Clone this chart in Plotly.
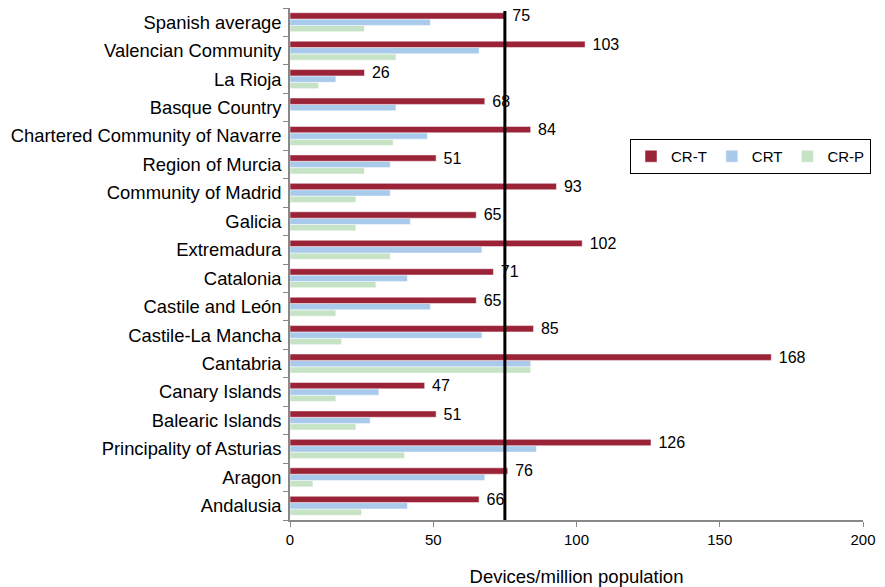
import plotly.graph_objects as go

regions = ["Andalusia", "Aragon", "Principality of Asturias", "Balearic Islands", "Canary Islands",
           "Cantabria", "Castile-La Mancha", "Castile and León", "Catalonia", "Extremadura",
           "Galicia", "Community of Madrid", "Region of Murcia", "Chartered Community of Navarre",
           "Basque Country", "La Rioja", "Valencian Community", "Spanish average"]
cr_t = [66, 76, 126, 51, 47, 168, 85, 65, 71, 102, 65, 93, 51, 84, 68, 26, 103, 75]
crt = [41, 68, 86, 28, 31, 84, 67, 49, 41, 67, 42, 35, 35, 48, 37, 16, 66, 49]
cr_p = [25, 8, 40, 23, 16, 84, 18, 16, 30, 35, 23, 23, 26, 36, 0, 10, 37, 26]
spanish_avg = 75
x_ticks = [0, 50, 100, 150, 200]

font_family = "Liberation Sans, Arial, sans-serif"

fig = go.Figure()
fig.add_trace(go.Bar(y=regions, x=cr_p, orientation="h", name="CR-P",
                     marker=dict(color="#c6e3c6", line=dict(color="white", width=0.5))))
fig.add_trace(go.Bar(y=regions, x=crt, orientation="h", name="CRT",
                     marker=dict(color="#a9caeb", line=dict(color="white", width=0.5))))
fig.add_trace(go.Bar(y=regions, x=cr_t, orientation="h", name="CR-T",
                     marker=dict(color="#9b2337", line=dict(color="white", width=0.5)),
                     text=cr_t, texttemplate=" %{x}", textposition="outside",
                     constraintext="none",
                     textfont=dict(size=16, color="black", family=font_family),
                     cliponaxis=False))

fig.add_shape(type="line", xref="x", yref="paper", x0=spanish_avg, x1=spanish_avg,
              y0=0, y1=0.994, line=dict(color="black", width=3))

fig.update_layout(
    width=885, height=587,
    margin=dict(l=290, r=22, t=8, b=67, autoexpand=False),
    paper_bgcolor="white", plot_bgcolor="white",
    barmode="group", bargap=0.33, bargroupgap=0.0,
    font=dict(family=font_family, color="black"),
    showlegend=True,
    legend=dict(orientation="h", traceorder="reversed", x=1.014, y=0.71,
                xanchor="right", yanchor="middle", bordercolor="black", borderwidth=1,
                font=dict(size=15), bgcolor="white", itemwidth=30),
    xaxis=dict(range=[0, 200], tickvals=x_ticks, showgrid=False, zeroline=False,
               showline=True, linecolor="#888888", linewidth=1.5, ticks="outside",
               tickcolor="#888888", ticklen=5, tickfont=dict(size=15),
               title=dict(text="Devices/million population", font=dict(size=18.5), standoff=23)),
    yaxis=dict(showgrid=False, zeroline=False, showline=True, linecolor="#888888",
               linewidth=1.5, ticks="outside", tickson="boundaries", tickcolor="#888888",
               ticklen=5, tickfont=dict(size=18.4), ticklabelstandoff=3, range=[-0.5, 17.5]),
)

fig.write_html("out.html")
